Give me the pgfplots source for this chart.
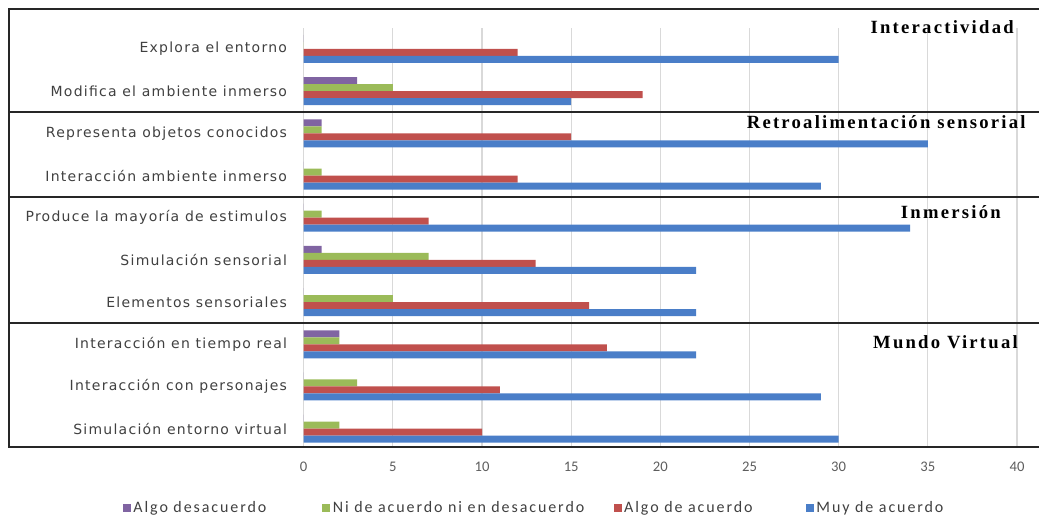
\documentclass[border=0pt]{standalone}
\usepackage{fontspec}
\setmainfont{Carlito}
\newfontfamily\labfont{DejaVu Sans}[LetterSpace=9]
\newfontfamily\legfont{Carlito}[LetterSpace=12]
\newfontfamily\titfont{Liberation Serif}[LetterSpace=12]
\usepackage{pgfplots}
\pgfplotsset{compat=1.18}
\definecolor{cpur}{HTML}{8064A2}
\definecolor{cgre}{HTML}{9BBB59}
\definecolor{cred}{HTML}{C0504D}
\definecolor{cblu}{HTML}{4A7EC8}
\definecolor{ctxt}{HTML}{404040}
\begin{document}
\begin{tikzpicture}
\begin{axis}[
  scale only axis, width=535.5pt, height=314.25pt,
  xmin=0, xmax=40, ymin=0.574, ymax=10.497,
  xbar, bar width=5.25pt,
  axis line style={draw=none},
  xtick={0,5,...,40}, xmajorgrids, grid style={black!15, line width=0.8pt},
  major tick length=0,
  ytick={1,...,10},
  yticklabels={Simulación entorno virtual, Interacción con personajes, Interacción en tiempo real, Elementos sensoriales, Simulación sensorial, Produce la mayoría de estimulos, Interacción ambiente inmerso, Representa objetos conocidos, Modifica el ambiente inmerso, Explora el entorno},
  yticklabel style={font=\labfont\fontsize{10.5}{12}\selectfont, text=ctxt, xshift=-9pt},
  xticklabel style={font=\fontsize{11}{13}\selectfont, text=ctxt!85, yshift=-8pt},
  /pgf/number format/assume math mode=true,
  clip=false,
  legend columns=4,
  legend style={at={(0.3235,-0.146)}, anchor=center, draw=none, fill=none,
    font=\legfont\fontsize{12}{14}\selectfont, text=ctxt,
    /tikz/every even column/.append style={column sep=20pt}},
  legend image code/.code={\fill[#1,draw=none] (0pt,-3pt) rectangle (6pt,3pt);},
]
\addplot[fill=cpur, draw=none, bar shift=7.875pt] coordinates {
 (0,10) (3,9) (1,8) (0,7) (0,6) (1,5) (0,4) (2,3) (0,2) (0,1)};
\addplot[fill=cgre, draw=none, bar shift=2.625pt] coordinates {
 (0,10) (5,9) (1,8) (1,7) (1,6) (7,5) (5,4) (2,3) (3,2) (2,1)};
\addplot[fill=cred, draw=none, bar shift=-2.625pt] coordinates {
 (12,10) (19,9) (15,8) (12,7) (7,6) (13,5) (16,4) (17,3) (11,2) (10,1)};
\addplot[fill=cblu, draw=none, bar shift=-7.875pt] coordinates {
 (30,10) (15,9) (35,8) (29,7) (34,6) (22,5) (22,4) (22,3) (29,2) (30,1)};
\legend{Algo desacuerdo\rule{20pt}{0pt}, Ni de acuerdo ni en desacuerdo, Algo de acuerdo\rule{18pt}{0pt}, Muy de acuerdo}
\path (axis cs:-17.03,11.161) rectangle (axis cs:41.23,-1.298);
\draw[line width=1.6pt, black!85] (axis cs:41.23,10.947) -- (axis cs:-16.53,10.947) -- (axis cs:-16.53,0.574) -- (axis cs:41.23,0.574);
\draw[line width=1.6pt, black!85] (axis cs:-16.53,8.5) -- (axis cs:41.23,8.5);
\draw[line width=1.6pt, black!85] (axis cs:-16.53,6.5) -- (axis cs:41.23,6.5);
\draw[line width=1.6pt, black!85] (axis cs:-16.53,3.5) -- (axis cs:41.23,3.5);
\node[anchor=east, font=\titfont\bfseries\fontsize{14}{16}\selectfont, inner sep=0pt] at (axis cs:39.83,10.52) {Interactividad};
\node[anchor=east, font=\titfont\bfseries\fontsize{14}{16}\selectfont, inner sep=0pt] at (axis cs:40.5,8.271) {Retroalimentación sensorial};
\node[anchor=east, font=\titfont\bfseries\fontsize{14}{16}\selectfont, inner sep=0pt] at (axis cs:39.1,6.139) {Inmersión};
\node[anchor=east, font=\titfont\bfseries\fontsize{14}{16}\selectfont, inner sep=0pt] at (axis cs:40.06,3.060) {Mundo Virtual};
\end{axis}
\end{tikzpicture}
\end{document}
